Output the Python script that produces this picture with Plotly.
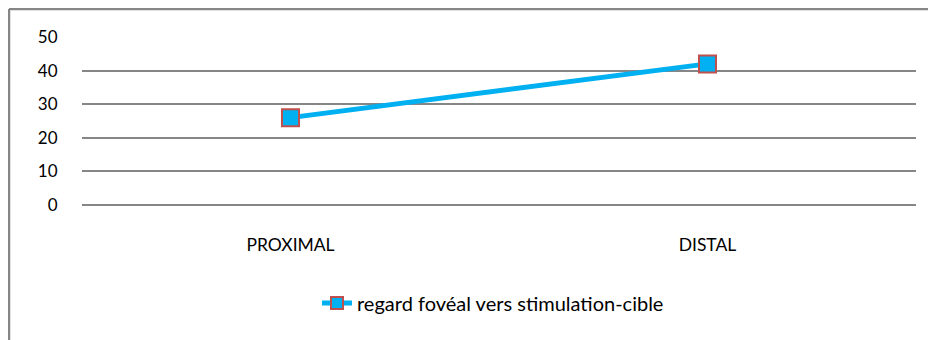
import plotly.graph_objects as go

categories = ["PROXIMAL", "DISTAL"]
values = [26, 42]
series_name = "regard fovéal vers stimulation-cible"
y_ticks = [0, 10, 20, 30, 40, 50]

W, H = 936, 340
L, R, T, B = 74, 28, 29, 143
pw, ph = W - L - R, H - T - B


def px_x(p):
    return (p - L) / pw


def px_y(p):
    return (H - B - p) / ph


FONT = "Lato, Carlito, Calibri, sans-serif"

fig = go.Figure()
fig.add_trace(go.Scatter(
    x=categories, y=values, mode="lines+markers", name=series_name,
    line=dict(color="#00B0F0", width=5),
    marker=dict(symbol="square", size=17, color="#00B0F0",
                line=dict(color="#C0504D", width=2)),
))

fig.update_layout(
    width=W, height=H,
    margin=dict(l=L, r=R, t=T, b=B),
    paper_bgcolor="white", plot_bgcolor="white",
    font=dict(family=FONT, size=17, color="#000000"),
    showlegend=True,
    legend=dict(orientation="h", x=px_x(309), xanchor="left",
                y=px_y(295), yanchor="middle", itemsizing="constant",
                font=dict(family=FONT, size=20), bgcolor="rgba(0,0,0,0)"),
    xaxis=dict(type="category", range=[-0.5, 1.5], showgrid=False, zeroline=False,
               showline=False, ticks="outside", ticklen=24,
               tickcolor="rgba(0,0,0,0)", tickfont=dict(family=FONT, size=17.5)),
    yaxis=dict(range=[0, 50], tickvals=y_ticks, showgrid=True,
               gridcolor="#868686", gridwidth=2, zeroline=False, showline=False,
               ticks="outside", ticklen=20, tickcolor="rgba(0,0,0,0)",
               tickfont=dict(family=FONT, size=17)),
    shapes=[
        dict(type="line", xref="paper", yref="paper", x0=0, x1=1, y0=0, y1=0,
             line=dict(color="#868686", width=2), layer="below"),
        dict(type="line", xref="paper", yref="paper",
             x0=px_x(1), x1=px_x(W + 20), y0=px_y(1), y1=px_y(1),
             line=dict(color="#868686", width=2.5)),
        dict(type="line", xref="paper", yref="paper",
             x0=px_x(1), x1=px_x(1), y0=px_y(1), y1=px_y(H + 20),
             line=dict(color="#868686", width=2.5)),
    ],
)

fig.write_html("out.html")
